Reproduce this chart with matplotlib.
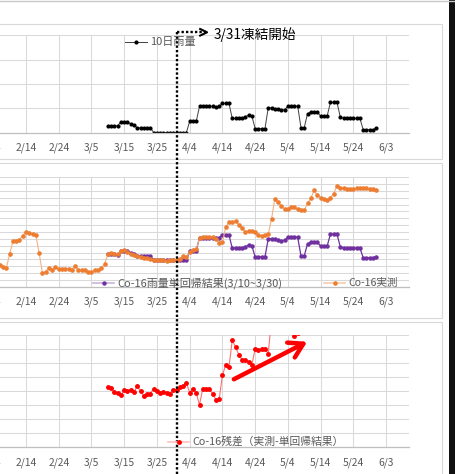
import matplotlib
matplotlib.use('Agg')
import matplotlib.pyplot as plt
import matplotlib.dates as mdates
import matplotlib.transforms as mtransforms
from matplotlib.lines import Line2D
from matplotlib.patches import Rectangle
import numpy as np
import pandas as pd

plt.rcParams['font.family'] = ['Noto Sans CJK JP', 'DejaVu Sans']

# ---------------- data ----------------
rain_start = '2024-03-10'
rain_10day = [14, 14, 14, 14, 22, 22, 22, 17.5, 15,
              9.5, 9.5, 9.5, 9.5, 9.5,
              0, 0, 0, 0, 0, 0, 0, 0, 0, 0, 0,
              23, 23, 23,
              53.5, 53.5, 53.5, 53.5, 53.5, 52, 53.5,
              60, 60, 60,
              29, 29, 29, 29, 32,
              36, 34,
              8, 8, 8, 8,
              51, 51, 49, 48, 46, 47,
              54, 54, 54, 54,
              10, 10,
              39, 42, 42, 42,
              34, 34, 34,
              62, 62, 62,
              32, 29, 29, 29, 29, 29, 29,
              6, 6, 6, 6, 9]

reg_start = '2024-03-10'
regression = [0.236, 0.236, 0.236, 0.234, 0.261, 0.261, 0.261, 0.248, 0.241,
              0.223, 0.223, 0.223, 0.223, 0.223,
              0.194, 0.194, 0.194, 0.194, 0.194, 0.194, 0.194, 0.194, 0.194, 0.194, 0.194,
              0.264, 0.264, 0.264,
              0.359, 0.359, 0.359, 0.359, 0.359, 0.359, 0.359,
              0.378, 0.378, 0.378,
              0.283, 0.283, 0.283, 0.283, 0.293,
              0.304, 0.298,
              0.219, 0.219, 0.219, 0.219,
              0.350, 0.350, 0.346, 0.342, 0.335, 0.340,
              0.361, 0.361, 0.361, 0.361,
              0.226, 0.226,
              0.314, 0.324, 0.324, 0.324,
              0.298, 0.298, 0.298,
              0.384, 0.384, 0.384,
              0.293, 0.283, 0.283, 0.283, 0.283, 0.283, 0.283,
              0.213, 0.213, 0.213, 0.213, 0.221]

obs_start = '2024-02-05'
observed = [0.160, 0.158, 0.145, 0.138, 0.240, 0.332, 0.332, 0.344, 0.373, 0.402,
            0.393, 0.388, 0.376, 0.249, 0.102, 0.109, 0.140, 0.121, 0.143, 0.133,
            0.129, 0.129, 0.129, 0.126, 0.153, 0.126, 0.121, 0.121, 0.107, 0.107,
            0.121, 0.126, 0.136, 0.167, 0.240, 0.249, 0.238, 0.242, 0.260, 0.267,
            0.255, 0.242, 0.235, 0.223, 0.218, 0.213, 0.211, 0.206, 0.194, 0.194,
            0.194, 0.194, 0.189, 0.199, 0.194, 0.199, 0.206, 0.223, 0.220, 0.252,
            0.269, 0.276, 0.354, 0.366, 0.366, 0.361, 0.361, 0.349, 0.320, 0.325,
            0.434, 0.475, 0.471, 0.482, 0.451, 0.427, 0.402, 0.407, 0.407, 0.398,
            0.378, 0.373, 0.378, 0.383, 0.495, 0.640, 0.616, 0.591, 0.567, 0.567,
            0.580, 0.580, 0.567, 0.558, 0.558, 0.609, 0.645, 0.705, 0.669, 0.649,
            0.638, 0.633, 0.649, 0.681, 0.737, 0.722, 0.718, 0.713, 0.713, 0.713,
            0.718, 0.718, 0.722, 0.718, 0.713, 0.711, 0.705]

resid_start = '2024-03-10'
residual = [0.015, 0.013, -0.003, -0.006, -0.014, 0.004, 0.001, 0.006, -0.003, 0.019,
            0.000, -0.017, -0.008, -0.008, 0.010, 0.001, -0.005, -0.003, -0.005, -0.008,
            0.006, 0.004, 0.015, 0.019, 0.030, -0.005, 0.010, -0.006, -0.048, 0.010,
            0.007, 0.007, -0.008, -0.030, -0.029, 0.057, 0.095, 0.087, 0.182, 0.158,
            0.131, 0.113, 0.111, 0.105, 0.095, 0.152, 0.146, 0.150, 0.150, 0.135,
            0.26, 0.30, 0.28, 0.26, 0.23, 0.22, 0.22, 0.197, 0.21,
            0.33, 0.33, 0.30, 0.32, 0.38, 0.35, 0.35, 0.34, 0.34,
            0.27, 0.30, 0.35, 0.43, 0.43, 0.43, 0.43, 0.43, 0.43,
            0.51, 0.51, 0.50, 0.50, 0.49, 0.48]

freeze_date = '2024-03-31'
label_rain = '10日雨量'
label_reg = 'Co-16雨量単回帰結果(3/10~3/30)'
label_obs = 'Co-16実測'
label_res = 'Co-16残差（実測-単回帰結果）'
freeze_text = '3/31凍結開始'

# ---------------- layout helpers ----------------
W, H, DPI = 455, 474, 100
fig = plt.figure(figsize=(W / DPI, H / DPI), dpi=DPI)
fig.patch.set_facecolor('white')


def fx(px):
    return px / W


def fy(py):
    return 1 - py / H


def rect(l, t, r, b):
    return [l / W, 1 - b / H, (r - l) / W, (b - t) / H]


x_left = pd.Timestamp('2024-01-24 20:00')
x_right = pd.Timestamp('2024-06-10')
ticks = pd.date_range('2024-01-25', '2024-06-03', freq='10D')
tick_labels = [f'{d.month}/{d.day}' for d in ticks]

GRID = '#d9d9d9'
TXT = '#595959'


def style(ax, ymin, ymax, step):
    ax.set_xlim(x_left, x_right)
    ax.set_ylim(ymin, ymax)
    ax.set_yticks(np.round(np.arange(ymin, ymax + step / 2, step), 4))
    ax.set_xticks(ticks)
    ax.set_xticklabels(tick_labels)
    ax.tick_params(axis='x', length=0, pad=7.2, labelsize=7.4, labelcolor=TXT)
    ax.tick_params(axis='y', length=0, labelleft=False)
    for s in ['top', 'left', 'right']:
        ax.spines[s].set_visible(False)
    ax.spines['bottom'].set_color('#bfbfbf')
    ax.spines['bottom'].set_linewidth(0.9)
    ax.grid(True, color=GRID, lw=0.75)
    ax.set_axisbelow(True)
    ax.set_facecolor('none')


# chart-area frames
for (t, b) in [(24, 159), (163, 317.5), (322, 490)]:
    fig.add_artist(Rectangle((fx(-5), fy(b)), fx(441.5) - fx(-5), fy(t) - fy(b),
                             transform=fig.transFigure, fill=False, ec=GRID, lw=0.8))

ax1 = fig.add_axes(rect(-40, 35.3, 409, 132.5))
ax2 = fig.add_axes(rect(-40, 177.2, 409, 286.8))
ax3 = fig.add_axes(rect(-40, 335.3, 409, 447.3))
style(ax1, 0, 200, 50)
style(ax2, 0, 0.8, 0.05)
style(ax3, -0.2, 0.2, 0.05)

rain_dates = pd.date_range(rain_start, periods=len(rain_10day), freq='D')
reg_dates = pd.date_range(reg_start, periods=len(regression), freq='D')
obs_dates = pd.date_range(obs_start, periods=len(observed), freq='D')
res_dates = pd.date_range(resid_start, periods=len(residual), freq='D')

ax1.plot(rain_dates, rain_10day, color='#404040', lw=0.7, marker='o', ms=2.0,
         mfc='black', mec='black')
ax2.plot(reg_dates, regression, color='#7030A0', lw=0.9, marker='o', ms=2.2,
         mfc='#7030A0', mec='#7030A0')
ax2.plot(obs_dates, observed, color='#F4B183', lw=0.8, marker='o', ms=2.3,
         mfc='#ED7D31', mec='#ED7D31')
ax3.plot(res_dates, residual, color='#FF7070', lw=0.8, marker='o', ms=2.5,
         mfc='#FF0000', mec='#FF0000')

# red trend arrow
base = pd.Timestamp('2024-02-14')
ax3.annotate('', xy=(base + pd.Timedelta(days=85.9), 0.177),
             xytext=(base + pd.Timedelta(days=63.5), 0.043),
             arrowprops=dict(arrowstyle='->,head_length=1.0,head_width=0.6',
                             color='#FF0000', lw=3.2, shrinkA=0, shrinkB=0),
             annotation_clip=False)

# freeze marker: vertical dotted line through all panels + dotted arrow + text
fd = mdates.date2num(pd.Timestamp(freeze_date))
trans = mtransforms.blended_transform_factory(ax1.transData, fig.transFigure)
fig.add_artist(Line2D([fd, fd], [fy(31.5), 0], transform=trans, color='black',
                      lw=1.7, linestyle=(0, (1, 0.9))))
fig.add_artist(Line2D([fd, fd + 8.9], [fy(32.3), fy(32.3)], transform=trans,
                      color='black', lw=1.7, linestyle=(0, (1, 0.9))))
fig.add_artist(Line2D([fd + 7.2, fd + 9.3, fd + 7.2], [fy(29.0), fy(32.3), fy(35.6)],
                      transform=trans, color='black', lw=1.5))
fig.text(fd + 11.4, fy(35), freeze_text, transform=trans, ha='left', va='center',
         fontsize=9.8, color='black')

# legends (drawn manually in figure pixels)


def legend_item(x0, x1, y, lc, mc, lw, ms, label, size, tx):
    fig.add_artist(Line2D([fx(x0), fx(x1)], [fy(y), fy(y)], transform=fig.transFigure,
                          color=lc, lw=lw))
    fig.add_artist(Line2D([fx((x0 + x1) / 2)], [fy(y)], transform=fig.transFigure,
                          marker='o', ms=ms, mfc=mc, mec=mc, lw=0))
    fig.text(fx(tx), fy(y), label, ha='left', va='center', fontsize=size, color=TXT)


legend_item(125, 147, 42, '#404040', 'black', 0.7, 2.0, label_rain, 8.0, 150)
legend_item(93, 114, 283.3, '#C9B3DD', '#7030A0', 1.2, 2.2, label_reg, 7.9, 117)
legend_item(324, 345, 283.3, '#F8CBAD', '#ED7D31', 1.2, 2.3, label_obs, 7.6, 348)
legend_item(168, 189, 441.7, '#FFC0C0', '#FF0000', 1.2, 2.5, label_res, 7.75, 192)

# screenshot edges
fig.add_artist(Line2D([0, 1], [fy(0.6), fy(0.6)], transform=fig.transFigure,
                      color='#c8c8c8', lw=1.0))
fig.add_artist(Rectangle((fx(449), 0), fx(455) - fx(449), 1, transform=fig.transFigure,
                         color='#111111', lw=0))

fig.savefig('out.png', dpi=DPI)
